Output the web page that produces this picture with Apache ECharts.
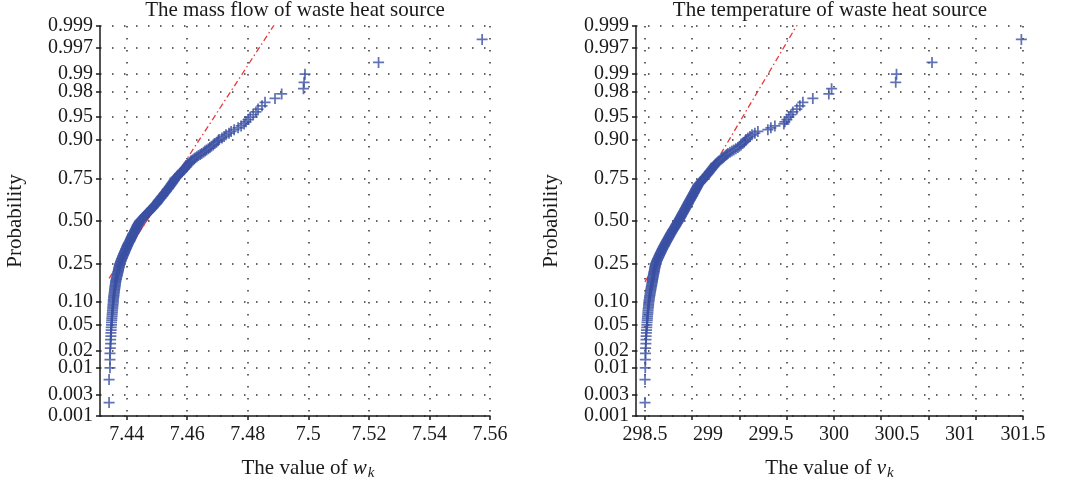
<!DOCTYPE html>
<html>
<head>
<meta charset="utf-8">
<script src="https://cdn.jsdelivr.net/npm/echarts@6/dist/echarts.min.js"></script>
<style>
html, body { margin: 0; padding: 0; background: #fff; }
#chart { width: 1065px; height: 487px; }
</style>
</head>
<body>
<div id="chart"></div>
<script>
// probability paper ticks
var probLabels = ['0.001', '0.003', '0.01', '0.02', '0.05', '0.10', '0.25', '0.50', '0.75', '0.90', '0.95', '0.98', '0.99', '0.997', '0.999'];
var massTicks = [7.44, 7.46, 7.48, 7.5, 7.52, 7.54, 7.56];
var tempTicks = [298.5, 298.875, 299.25, 299.625, 300, 300.375, 300.75, 301.125, 301.5];
var tempLabels = [298.5, 299, 299.5, 300, 300.5, 301, 301.5];

// sorted samples
var massFlow = [
  7.4342, 7.4342, 7.4345, 7.4345, 7.4345, 7.4346, 7.4347, 7.4347, 7.4348, 7.4348,
  7.4349, 7.4349, 7.4350, 7.4350, 7.4351, 7.4351, 7.4352, 7.4352, 7.4353, 7.4353,
  7.4354, 7.4354, 7.4355, 7.4355, 7.4356, 7.4356, 7.4356, 7.4357, 7.4357, 7.4358,
  7.4358, 7.4359, 7.4359, 7.4360, 7.4360, 7.4361, 7.4361, 7.4362, 7.4362, 7.4363,
  7.4363, 7.4364, 7.4364, 7.4365, 7.4366, 7.4366, 7.4367, 7.4368, 7.4369, 7.4369,
  7.4370, 7.4371, 7.4371, 7.4372, 7.4373, 7.4373, 7.4374, 7.4375, 7.4375, 7.4376,
  7.4377, 7.4377, 7.4378, 7.4379, 7.4380, 7.4381, 7.4382, 7.4383, 7.4384, 7.4385,
  7.4386, 7.4387, 7.4388, 7.4389, 7.4390, 7.4391, 7.4392, 7.4393, 7.4394, 7.4395,
  7.4396, 7.4397, 7.4398, 7.4399, 7.4400, 7.4401, 7.4402, 7.4403, 7.4404, 7.4405,
  7.4406, 7.4407, 7.4409, 7.4410, 7.4411, 7.4412, 7.4413, 7.4414, 7.4415, 7.4416,
  7.4417, 7.4418, 7.4419, 7.4420, 7.4421, 7.4422, 7.4424, 7.4425, 7.4426, 7.4427,
  7.4428, 7.4429, 7.4430, 7.4431, 7.4432, 7.4433, 7.4434, 7.4435, 7.4436, 7.4437,
  7.4439, 7.4440, 7.4441, 7.4442, 7.4443, 7.4445, 7.4447, 7.4449, 7.4451, 7.4453,
  7.4455, 7.4457, 7.4459, 7.4461, 7.4463, 7.4465, 7.4467, 7.4469, 7.4471, 7.4473,
  7.4475, 7.4477, 7.4479, 7.4481, 7.4483, 7.4485, 7.4487, 7.4489, 7.4491, 7.4493,
  7.4495, 7.4497, 7.4499, 7.4501, 7.4502, 7.4504, 7.4505, 7.4507, 7.4509, 7.4511,
  7.4513, 7.4514, 7.4516, 7.4518, 7.4520, 7.4522, 7.4523, 7.4525, 7.4527, 7.4529,
  7.4531, 7.4532, 7.4534, 7.4536, 7.4538, 7.4540, 7.4541, 7.4543, 7.4545, 7.4547,
  7.4549, 7.4550, 7.4552, 7.4554, 7.4556, 7.4557, 7.4559, 7.4560, 7.4563, 7.4566,
  7.4568, 7.4571, 7.4574, 7.4576, 7.4579, 7.4582, 7.4584, 7.4587, 7.4590, 7.4592,
  7.4595, 7.4598, 7.4600, 7.4603, 7.4606, 7.4608, 7.4611, 7.4613, 7.4618, 7.4623,
  7.4627, 7.4632, 7.4637, 7.4643, 7.4648, 7.4654, 7.4659, 7.4664, 7.4670, 7.4675,
  7.4680, 7.4686, 7.4691, 7.4697, 7.4702, 7.4705, 7.4715, 7.4722, 7.4728, 7.4738,
  7.4745, 7.4755, 7.4768, 7.4778, 7.4788, 7.4794, 7.4801, 7.4808, 7.4818, 7.4827,
  7.4834, 7.4847, 7.4857, 7.4890, 7.4912, 7.4984, 7.4986, 7.4989, 7.5232, 7.5574
];
var temperature = [
  298.500, 298.500, 298.502, 298.503, 298.504, 298.505, 298.507, 298.508, 298.509, 298.511,
  298.512, 298.514, 298.515, 298.516, 298.518, 298.519, 298.520, 298.522, 298.523, 298.524,
  298.525, 298.527, 298.528, 298.529, 298.530, 298.532, 298.533, 298.535, 298.536, 298.538,
  298.540, 298.541, 298.543, 298.545, 298.546, 298.548, 298.549, 298.551, 298.553, 298.554,
  298.556, 298.557, 298.558, 298.560, 298.561, 298.562, 298.564, 298.565, 298.566, 298.568,
  298.569, 298.571, 298.572, 298.573, 298.575, 298.576, 298.577, 298.579, 298.580, 298.581,
  298.583, 298.584, 298.585, 298.588, 298.591, 298.593, 298.596, 298.599, 298.601, 298.604,
  298.607, 298.610, 298.612, 298.615, 298.618, 298.620, 298.623, 298.626, 298.628, 298.631,
  298.634, 298.637, 298.639, 298.642, 298.645, 298.648, 298.651, 298.654, 298.657, 298.660,
  298.662, 298.665, 298.668, 298.671, 298.674, 298.677, 298.680, 298.683, 298.686, 298.689,
  298.692, 298.694, 298.697, 298.700, 298.703, 298.706, 298.709, 298.712, 298.715, 298.718,
  298.721, 298.724, 298.727, 298.731, 298.734, 298.737, 298.740, 298.743, 298.746, 298.749,
  298.752, 298.755, 298.758, 298.761, 298.764, 298.767, 298.770, 298.773, 298.775, 298.778,
  298.781, 298.784, 298.787, 298.789, 298.792, 298.795, 298.798, 298.801, 298.803, 298.806,
  298.809, 298.812, 298.815, 298.817, 298.820, 298.823, 298.826, 298.829, 298.831, 298.834,
  298.837, 298.840, 298.843, 298.845, 298.848, 298.851, 298.854, 298.857, 298.860, 298.863,
  298.866, 298.869, 298.872, 298.875, 298.878, 298.881, 298.884, 298.887, 298.890, 298.893,
  298.896, 298.899, 298.902, 298.905, 298.908, 298.911, 298.914, 298.917, 298.920, 298.923,
  298.929, 298.934, 298.940, 298.945, 298.951, 298.957, 298.962, 298.968, 298.973, 298.979,
  298.984, 298.990, 298.995, 299.001, 299.006, 299.012, 299.017, 299.023, 299.028, 299.034,
  299.039, 299.045, 299.050, 299.056, 299.061, 299.071, 299.080, 299.090, 299.100, 299.110,
  299.119, 299.129, 299.139, 299.148, 299.158, 299.174, 299.190, 299.205, 299.221, 299.237,
  299.250, 299.262, 299.275, 299.287, 299.298, 299.301, 299.317, 299.333, 299.349, 299.372,
  299.396, 299.475, 299.499, 299.531, 299.602, 299.610, 299.626, 299.642, 299.658, 299.674,
  299.705, 299.729, 299.753, 299.832, 299.959, 299.981, 300.490, 300.496, 300.778, 301.487
];
// first / third quartile of the reference line
var massQuartiles = [7.4374, 7.4557];
var tempQuartiles = [298.586, 298.986];

// inverse of the standard normal cdf (Acklam)
function normInv(p) {
  var a = [-3.969683028665376e+01, 2.209460984245205e+02, -2.759285104469687e+02, 1.383577518672690e+02, -3.066479806614716e+01, 2.506628277459239e+00];
  var b = [-5.447609879822406e+01, 1.615858368580409e+02, -1.556989798598866e+02, 6.680131188771972e+01, -1.328068155288572e+01];
  var c = [-7.784894002430293e-03, -3.223964580411365e-01, -2.400758277161838e+00, -2.549732539343734e+00, 4.374664141464968e+00, 2.938163982698783e+00];
  var d = [7.784695709041462e-03, 3.224671290700398e-01, 2.445134137142996e+00, 3.754408661907416e+00];
  var q, r;
  if (p < 0.02425) {
    q = Math.sqrt(-2 * Math.log(p));
    return (((((c[0]*q+c[1])*q+c[2])*q+c[3])*q+c[4])*q+c[5]) / ((((d[0]*q+d[1])*q+d[2])*q+d[3])*q+1);
  }
  if (p > 1 - 0.02425) {
    q = Math.sqrt(-2 * Math.log(1 - p));
    return -(((((c[0]*q+c[1])*q+c[2])*q+c[3])*q+c[4])*q+c[5]) / ((((d[0]*q+d[1])*q+d[2])*q+d[3])*q+1);
  }
  q = p - 0.5; r = q * q;
  return (((((a[0]*r+a[1])*r+a[2])*r+a[3])*r+a[4])*r+a[5])*q / (((((b[0]*r+b[1])*r+b[2])*r+b[3])*r+b[4])*r+1);
}

var probTicks = probLabels.map(function (s) { return normInv(parseFloat(s)); });
var zMin = probTicks[0], zMax = probTicks[probTicks.length - 1];
var zq = normInv(0.75);

function plotPoints(values) {
  var n = values.length;
  return values.map(function (v, i) { return [v, normInv((i + 0.5) / n)]; });
}
function fitAt(quart, x) {
  return -zq + (x - quart[0]) * 2 * zq / (quart[1] - quart[0]);
}
function fullLine(values, quart) {
  var a = values[0], b = values[values.length - 1];
  return [[a, fitAt(quart, a)], [b, fitAt(quart, b)]];
}
function midLine(quart) {
  return [[quart[0], -zq], [quart[1], zq]];
}

var FONT = "'Liberation Serif', 'Times New Roman', serif";
var plus = 'path://M4.2,0H5.8V4.2H10V5.8H5.8V10H4.2V5.8H0V4.2H4.2Z';
var gridDots = { color: '#333', width: 1.5, type: [1.5, 10.5] };
var axisBlack = { color: '#1a1a1a', width: 1.5 };

function yAxis(gi) {
  return {
    gridIndex: gi,
    type: 'value',
    min: zMin,
    max: zMax,
    axisLine: { show: true, lineStyle: axisBlack },
    axisTick: { show: true, length: 4, lineStyle: axisBlack, customValues: probTicks },
    axisLabel: {
      customValues: probTicks,
      fontFamily: FONT, fontSize: 20, color: '#1a1a1a', margin: 7,
      formatter: function (v) {
        for (var i = 0; i < probTicks.length; i++) {
          if (Math.abs(probTicks[i] - v) < 1e-6) return probLabels[i];
        }
        return '';
      }
    },
    splitLine: { show: true, lineStyle: gridDots },
    name: 'Probability',
    nameLocation: 'middle',
    nameRotate: 90,
    nameGap: 74,
    nameTextStyle: { fontFamily: FONT, fontSize: 21, color: '#1a1a1a' }
  };
}

function xName(letter) {
  return 'The value of {i|' + letter + '}{s|k}';
}
var nameRich = {
  i: { fontFamily: FONT, fontSize: 21, fontStyle: 'italic', color: '#1a1a1a' },
  s: { fontFamily: FONT, fontSize: 15, fontStyle: 'italic', color: '#1a1a1a', padding: [11, 0, 0, 1] }
};

var chart = echarts.init(document.getElementById('chart'));
chart.setOption({
  animation: false,
  backgroundColor: '#fff',
  title: [
    { text: 'The mass flow of waste heat source', left: 295, top: 0, padding: 0, textAlign: 'center',
      textStyle: { fontFamily: FONT, fontSize: 21, fontWeight: 'normal', color: '#1a1a1a' } },
    { text: 'The temperature of waste heat source', left: 830, top: 0, padding: 0, textAlign: 'center',
      textStyle: { fontFamily: FONT, fontSize: 21, fontWeight: 'normal', color: '#1a1a1a' } }
  ],
  grid: [
    { left: 100, top: 26, width: 390, height: 390 },
    { left: 636, top: 26, width: 387, height: 390 }
  ],
  xAxis: [
    {
      gridIndex: 0, type: 'value', min: 7.4312, max: 7.56,
      axisLine: { show: true, onZero: false, lineStyle: axisBlack },
      axisTick: { show: true, length: 4, lineStyle: axisBlack, customValues: massTicks },
      axisLabel: { customValues: massTicks, fontFamily: FONT, fontSize: 20, color: '#1a1a1a', margin: 9 },
      splitLine: { show: true, lineStyle: gridDots },
      name: xName('w'), nameLocation: 'middle', nameGap: 39,
      nameTextStyle: { fontFamily: FONT, fontSize: 21, color: '#1a1a1a', padding: [0, 0, 0, 26], rich: nameRich }
    },
    {
      gridIndex: 1, type: 'value', min: 298.4286, max: 301.5,
      axisLine: { show: true, onZero: false, lineStyle: axisBlack },
      axisTick: { show: true, length: 4, lineStyle: axisBlack, customValues: tempTicks },
      axisLabel: { customValues: tempLabels, fontFamily: FONT, fontSize: 20, color: '#1a1a1a', margin: 9 },
      splitLine: { show: true, lineStyle: gridDots },
      name: xName('v'), nameLocation: 'middle', nameGap: 39,
      nameTextStyle: { fontFamily: FONT, fontSize: 21, color: '#1a1a1a', rich: nameRich }
    }
  ],
  yAxis: [yAxis(0), yAxis(1)],
  series: [
    { type: 'line', xAxisIndex: 0, yAxisIndex: 0, data: fullLine(massFlow, massQuartiles), symbol: 'none', z: 1,
      lineStyle: { color: '#e8383d', width: 1.3, type: [6, 3, 1.5, 3] } },
    { type: 'line', xAxisIndex: 0, yAxisIndex: 0, data: midLine(massQuartiles), symbol: 'none', z: 1,
      lineStyle: { color: '#e8383d', width: 1.3 } },
    { type: 'scatter', xAxisIndex: 0, yAxisIndex: 0, data: plotPoints(massFlow), symbol: plus, symbolSize: 11, z: 2,
      itemStyle: { color: '#3b50a2' } },
    { type: 'line', xAxisIndex: 1, yAxisIndex: 1, data: fullLine(temperature, tempQuartiles), symbol: 'none', z: 1,
      lineStyle: { color: '#e8383d', width: 1.3, type: [6, 3, 1.5, 3] } },
    { type: 'line', xAxisIndex: 1, yAxisIndex: 1, data: midLine(tempQuartiles), symbol: 'none', z: 1,
      lineStyle: { color: '#e8383d', width: 1.3 } },
    { type: 'scatter', xAxisIndex: 1, yAxisIndex: 1, data: plotPoints(temperature), symbol: plus, symbolSize: 11, z: 2,
      itemStyle: { color: '#3b50a2' } }
  ]
});
</script>
</body>
</html>
